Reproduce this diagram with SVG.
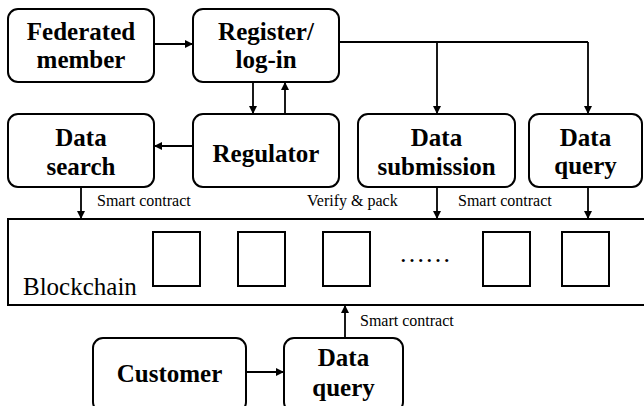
<svg xmlns="http://www.w3.org/2000/svg" width="644" height="406" viewBox="0 0 644 406" font-family="Liberation Serif, Times New Roman, serif">
  <defs>
    <marker id="arrow" viewBox="0 0 10 10" refX="10" refY="5" markerWidth="8" markerHeight="8" markerUnits="userSpaceOnUse" orient="auto">
      <path d="M0,0 L10,5 L0,10 Z" fill="#000"/>
    </marker>
  </defs>
  <style>
    .box { fill: #fff; stroke: #000; stroke-width: 2; }
    .block { fill: #fff; stroke: #000; stroke-width: 2; }
    .label { font-weight: bold; font-size: 25px; text-anchor: middle; fill: #000; }
    .note { font-size: 16px; fill: #000; }
    .edge { fill: none; stroke: #000; stroke-width: 1.8; }
    .edge-arrow { fill: none; stroke: #000; stroke-width: 1.8; marker-end: url(#arrow); }
  </style>
  <rect width="644" height="406" fill="#fff"/>

  <!-- chain band with blocks -->
  <g id="blockchain">
    <rect class="box" x="8" y="219" width="640" height="86"/>
    <text x="23" y="295" font-size="25" font-family="Liberation Serif">Blockchain</text>
    <rect class="block" x="153" y="232" width="47" height="54"/>
    <rect class="block" x="238" y="232" width="47" height="54"/>
    <rect class="block" x="323" y="232" width="47" height="54"/>
    <text x="399" y="262" font-size="26">……</text>
    <rect class="block" x="483" y="232" width="47" height="54"/>
    <rect class="block" x="562" y="232" width="47" height="54"/>
  </g>

  <g id="federated-member">
    <rect class="box" x="8" y="9" width="146" height="73" rx="10"/>
    <text class="label" x="81" y="40">Federated</text>
    <text class="label" x="81" y="68">member</text>
  </g>

  <g id="register">
    <rect class="box" x="193" y="9" width="146" height="73" rx="10"/>
    <text class="label" x="266" y="40">Register/</text>
    <text class="label" x="266" y="68">log-in</text>
  </g>

  <g id="data-search">
    <rect class="box" x="8" y="114" width="146" height="73" rx="10"/>
    <text class="label" x="81" y="146">Data</text>
    <text class="label" x="81" y="175">search</text>
  </g>

  <g id="regulator">
    <rect class="box" x="193" y="114" width="146" height="73" rx="10"/>
    <text class="label" x="266" y="162">Regulator</text>
  </g>

  <g id="data-submission">
    <rect class="box" x="358" y="114" width="157" height="73" rx="10"/>
    <text class="label" x="436.5" y="146">Data</text>
    <text class="label" x="436.5" y="175">submission</text>
  </g>

  <g id="data-query-top">
    <rect class="box" x="529" y="114" width="113" height="73" rx="10"/>
    <text class="label" x="585.5" y="146">Data</text>
    <text class="label" x="585.5" y="174">query</text>
  </g>

  <g id="customer">
    <rect class="box" x="93" y="338" width="153" height="74" rx="10"/>
    <text class="label" x="169.5" y="382">Customer</text>
  </g>

  <g id="data-query-bottom">
    <rect class="box" x="284" y="338" width="119" height="74" rx="10"/>
    <text class="label" x="343.5" y="366">Data</text>
    <text class="label" x="343.5" y="396">query</text>
  </g>

  <g id="connectors">
    <line class="edge-arrow" x1="154" y1="44" x2="193" y2="44"/>
    <line class="edge-arrow" x1="253" y1="82" x2="253" y2="114"/>
    <line class="edge-arrow" x1="285" y1="114" x2="285" y2="82"/>
    <line class="edge-arrow" x1="193" y1="146" x2="154" y2="146"/>
    <polyline class="edge" points="339,42 588,42"/>
    <line class="edge-arrow" x1="437" y1="42" x2="437" y2="114"/>
    <line class="edge-arrow" x1="588" y1="42" x2="588" y2="114"/>
    <line class="edge-arrow" x1="81" y1="187" x2="81" y2="219"/>
    <line class="edge-arrow" x1="437" y1="187" x2="437" y2="219"/>
    <line class="edge-arrow" x1="588" y1="187" x2="588" y2="219"/>
    <line class="edge-arrow" x1="246" y1="372" x2="284" y2="372"/>
    <line class="edge-arrow" x1="345" y1="338" x2="345" y2="305"/>
    <text class="note" x="97" y="206">Smart contract</text>
    <text class="note" x="307" y="206">Verify &amp; pack</text>
    <text class="note" x="458" y="206">Smart contract</text>
    <text class="note" x="360" y="326">Smart contract</text>
  </g>
</svg>
